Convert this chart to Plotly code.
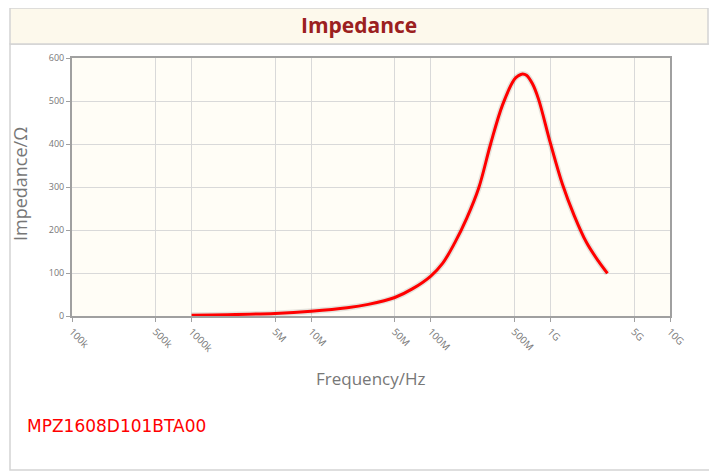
import plotly.graph_objects as go

freq_hz = [1e6, 2e6, 5e6, 1e7, 2e7, 3e7, 5e7, 7e7, 1e8, 1.259e8, 1.585e8,
           1.995e8, 2.512e8, 3.162e8, 3.981e8, 5.012e8, 5.41e8, 5.85e8,
           6.31e8, 7.08e8, 7.94e8, 1e9, 1.259e9, 1.585e9, 1.995e9, 2.512e9, 3.0e9]
impedance = [2, 3, 6, 11, 19, 27, 43, 63, 93, 123, 170,
             227, 297, 400, 491, 551, 559, 563,
             560, 540, 505, 402, 307, 233, 172, 128, 99]

x_tickvals = [1e5, 5e5, 1e6, 5e6, 1e7, 5e7, 1e8, 5e8, 1e9, 5e9, 1e10]
x_ticktext = ["100k", "500k", "1000k", "5M", "10M", "50M", "100M", "500M", "1G", "5G", "10G"]
y_tickvals = [0, 100, 200, 300, 400, 500, 600]

OFF = 8  # page body margin
W, H = 717 - OFF, 473 - OFF
L, R, T, B = 72 - OFF, 670 - OFF, 58 - OFF, 316 - OFF

def px(x):
    return (x - OFF - L) / (R - L)

def py(y):
    return (B - (y - OFF)) / (B - T)

fig = go.Figure()
fig.add_trace(go.Scatter(x=freq_hz, y=impedance, mode="lines",
                         line=dict(color="rgba(0,0,0,0.10)", width=6, shape="spline", smoothing=1),
                         hoverinfo="skip", showlegend=False))
fig.add_trace(go.Scatter(x=freq_hz, y=impedance, mode="lines",
                         line=dict(color="#ff0000", width=3, shape="spline", smoothing=1),
                         showlegend=False))

shapes = [
    dict(type="rect", xref="paper", yref="paper", x0=px(10), x1=px(710), y0=py(470), y1=py(44),
         line=dict(color="#d4d4d4", width=1.5), fillcolor="rgba(0,0,0,0)", layer="below"),
    dict(type="rect", xref="paper", yref="paper", x0=px(10), x1=px(708), y0=py(44), y1=py(8),
         line=dict(color="#d4d4d4", width=1.5), fillcolor="#fdf9ec", layer="below"),
]

fig.update_layout(
    width=W, height=H,
    margin=dict(l=L, r=W - R, t=T, b=H - B),
    paper_bgcolor="white",
    plot_bgcolor="#fffdf6",
    shapes=shapes,
    font=dict(family="Open Sans, DejaVu Sans, sans-serif", color="#666"),
    annotations=[
        dict(text="<b>Impedance</b>", xref="paper", yref="paper", x=px(359), y=py(25), showarrow=False,
             font=dict(size=21, color="#9b2020", family="Open Sans, sans-serif"), xanchor="center", yanchor="middle"),
        dict(text="MPZ1608D101BTA00", xref="paper", yref="paper", x=px(25), y=py(426), showarrow=False,
             font=dict(size=17, color="#ff0000", family="DejaVu Sans, sans-serif"), xanchor="left", yanchor="middle"),
        dict(text="Frequency/Hz", xref="paper", yref="paper", x=px(370), y=py(378), showarrow=False,
             font=dict(size=17, color="#777"), xanchor="center", yanchor="middle"),
        dict(text="Impedance/Ω", xref="paper", yref="paper", x=px(20), y=py(184), showarrow=False, textangle=-90,
             font=dict(size=18, color="#777"), xanchor="center", yanchor="middle"),
    ],
    xaxis=dict(
        type="log", range=[5, 10], tickvals=x_tickvals, ticktext=x_ticktext, tickangle=45,
        showgrid=True, gridcolor="#d9d9d9", gridwidth=1,
        showline=True, linecolor="#a0a0a0", linewidth=2, mirror=True,
        ticks="outside", ticklen=4, tickcolor="#a0a0a0",
        tickfont=dict(size=10, color="#777"), zeroline=False,
    ),
    yaxis=dict(
        range=[0, 600], tickvals=y_tickvals, showgrid=True, gridcolor="#d9d9d9", gridwidth=1,
        showline=True, linecolor="#a0a0a0", linewidth=2, mirror=True,
        ticks="outside", ticklen=4, tickcolor="#a0a0a0",
        tickfont=dict(size=9, color="#777"), zeroline=False,
    ),
)

fig.write_html("out.html")
